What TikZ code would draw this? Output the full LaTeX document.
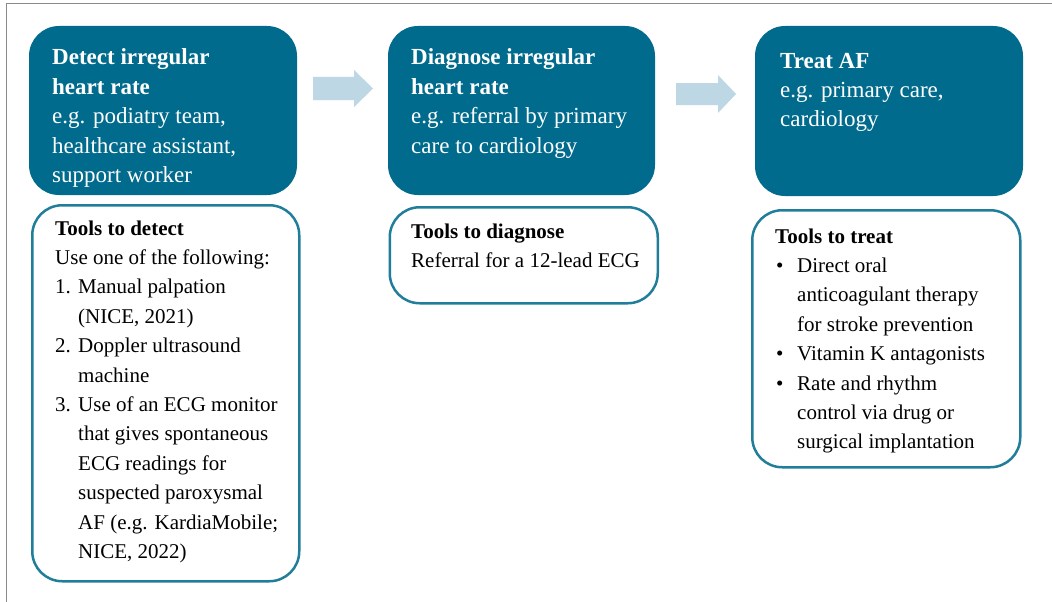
\documentclass[tikz,border=0pt]{standalone}
\usepackage{fontspec}
\setmainfont{Liberation Serif}
\definecolor{afdark}{HTML}{006B8C}
\definecolor{afline}{HTML}{217E9B}
\definecolor{afarrow}{HTML}{BDD7E4}
\definecolor{afframe}{HTML}{8C8A88}
\begin{document}
\begin{tikzpicture}[x=1pt,y=-1pt,
  darkbox/.style={fill=afdark, draw=none, rounded corners=30pt, inner sep=0pt, outer sep=0pt, anchor=north west},
  toolbox/.style={draw=afline, line width=2.5pt, fill=white, rounded corners=30pt, inner sep=0pt, anchor=north west},
  headtext/.style={anchor=base west, inner sep=0pt, text=white, font=\fontsize{23}{29.4}\selectfont},
  tooltext/.style={anchor=base west, inner sep=0pt, text=black, font=\fontsize{21}{29.4}\selectfont},
  blockarrow/.style={fill=afarrow, draw=none}]
\useasboundingbox (0,0) rectangle (1052,602);
\fill[white] (0,0) rectangle (1052,602);
\draw[afframe, line width=1pt] (6,602) -- (6,4) -- (1052,4);

% dark header boxes
\node[darkbox, minimum width=268pt, minimum height=169pt] (det) at (29,26) {};
\node[darkbox, minimum width=267pt, minimum height=169pt] (dia) at (388,26) {};
\node[darkbox, minimum width=268pt, minimum height=170pt] (trt) at (755,26) {};

% tool boxes
\node[toolbox, minimum width=267pt, minimum height=376pt] (detT) at (31,204) {};
\node[toolbox, minimum width=268pt, minimum height=96pt] (diaT) at (388.5,206) {};
\node[toolbox, minimum width=268pt, minimum height=257pt] (trtT) at (751,209) {};

% block arrows
\fill[blockarrow] (313,77) -- (354,77) -- (354,70) -- (373,88.5) -- (354,107) -- (354,100) -- (313,100) -- cycle;
\fill[blockarrow] (676,83) -- (718,83) -- (718,75) -- (736,94) -- (718,113) -- (718,105) -- (676,105) -- cycle;

% header texts
\node[headtext] (detH) at (52,65) {\parbox[t]{240pt}{\raggedright
  \textbf{Detect irregular}\\\textbf{heart rate}\\e.g. podiatry team,\\healthcare assistant,\\support worker}};
\node[headtext] (diaH) at (411,65) {\parbox[t]{240pt}{\raggedright
  \textbf{Diagnose irregular}\\\textbf{heart rate}\\e.g. referral by primary\\care to cardiology}};
\node[headtext] (trtH) at (780,68) {\parbox[t]{240pt}{\raggedright
  \textbf{Treat AF}\\e.g. primary care,\\cardiology}};

% tool texts
\node[tooltext] (detL) at (55,235) {\parbox[t]{240pt}{\raggedright
  \textbf{Tools to detect}\\
  Use one of the following:\\
  \makebox[23pt][l]{1.}Manual palpation\\
  \hspace*{23pt}(NICE, 2021)\\
  \makebox[23pt][l]{2.}Doppler ultrasound\\
  \hspace*{23pt}machine\\
  \makebox[23pt][l]{3.}Use of an ECG monitor\\
  \hspace*{23pt}that gives spontaneous\\
  \hspace*{23pt}ECG readings for\\
  \hspace*{23pt}suspected paroxysmal\\
  \hspace*{23pt}AF (e.g. KardiaMobile;\\
  \hspace*{23pt}NICE, 2022)}};
\node[tooltext] (diaL) at (411,238) {\parbox[t]{240pt}{\raggedright
  \textbf{Tools to diagnose}\\
  Referral for a 12-lead ECG}};
\node[tooltext] (trtL) at (775,243) {\parbox[t]{240pt}{\raggedright
  \textbf{Tools to treat}\\
  \makebox[22pt][l]{\hspace*{1pt}\textbullet}Direct oral\\
  \hspace*{22pt}anticoagulant therapy\\
  \hspace*{22pt}for stroke prevention\\
  \makebox[22pt][l]{\hspace*{1pt}\textbullet}Vitamin K antagonists\\
  \makebox[22pt][l]{\hspace*{1pt}\textbullet}Rate and rhythm\\
  \hspace*{22pt}control via drug or\\
  \hspace*{22pt}surgical implantation}};
\end{tikzpicture}
\end{document}
